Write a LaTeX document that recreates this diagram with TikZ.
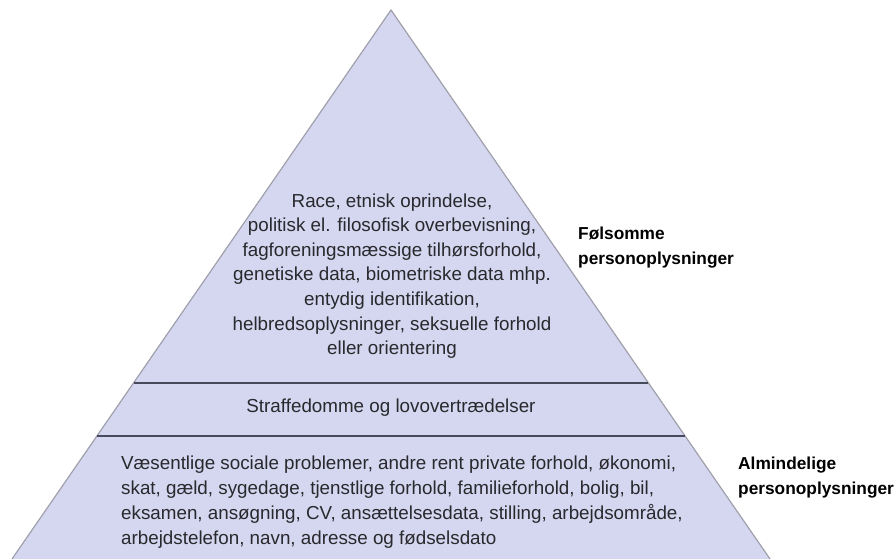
\documentclass[tikz,border=0pt]{standalone}
\usepackage{fontspec}
\setmainfont{Liberation Sans}
\usepackage{tikz}
\usetikzlibrary{positioning,calc}

\definecolor{pyrfill}{RGB}{213,215,240}
\definecolor{pyredge}{RGB}{160,160,172}
\definecolor{pyrline}{RGB}{70,74,90}
\definecolor{pyrtext}{RGB}{40,40,45}

\begin{document}
\begin{tikzpicture}[
x=1pt, y=-1pt,
layer/.style={text=pyrtext, align=center, inner sep=0pt, font=\fontsize{18.8}{24.6}\selectfont},
body/.style={text=pyrtext, align=left, inner sep=0pt, anchor=west, font=\fontsize{18.8}{25}\selectfont},
tag/.style={text=black, align=left, inner sep=0pt, anchor=west, font=\fontsize{17.3}{25}\selectfont\bfseries},
divider/.style={draw=pyrline, line width=2pt}
]
\useasboundingbox (0,0) rectangle (896,559);
\coordinate (apex) at (391,10);
\coordinate (bl) at (12,559);
\coordinate (br) at (770,559);
\fill[pyrfill] (bl) -- (apex) -- (br) -- cycle;
\draw[draw=pyredge, line width=1.2pt] (bl) -- (apex) -- (br);
% dividing lines
\draw[divider] ($(apex)!0.679!(bl)$) -- ($(apex)!0.679!(br)$);
\draw[divider] ($(apex)!0.776!(bl)$) -- ($(apex)!0.776!(br)$);

\node[layer] (sensitive) at (392,276) {Race, etnisk oprindelse,\\politisk el. filosofisk overbevisning,\\fagforeningsmæssige tilhørsforhold,\\genetiske data, biometriske data mhp.\\entydig identifikation,\\helbredsoplysninger, seksuelle forhold\\eller orientering};
\node[layer] (crime) at (391,408) {Straffedomme og lovovertrædelser};
\node[body] (common) at (121,502.5) {Væsentlige sociale problemer, andre rent private forhold, økonomi,\\skat, gæld, sygedage, tjenstlige forhold, familieforhold, bolig, bil,\\eksamen, ansøgning, CV, ansættelsesdata, stilling, arbejdsområde,\\arbejdstelefon, navn, adresse og fødselsdato};

\node[tag] (sensitivetag) at (578,247.5) {Følsomme\\personoplysninger};
\node[tag] (commontag) at (738,477.5) {Almindelige\\personoplysninger};
\end{tikzpicture}
\end{document}
